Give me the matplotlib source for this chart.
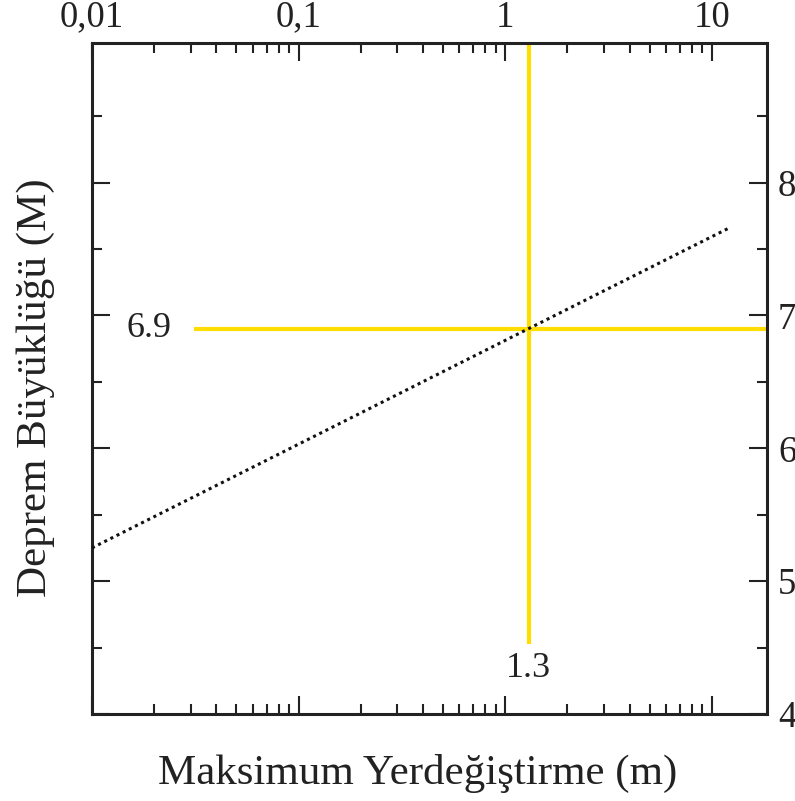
import matplotlib
matplotlib.use("Agg")
import matplotlib.pyplot as plt
from matplotlib.ticker import LogLocator, FixedLocator, NullFormatter, FuncFormatter

plt.rcParams['font.family'] = ['Liberation Serif', 'DejaVu Serif']

# Magnitude vs. maximum displacement relation (end points of the fitted line)
disp_line = [0.01, 12.2]
mag_line = [5.25, 7.66]

# Reference reading
disp_value = 1.3
mag_value = 6.9

x_ticks = [0.01, 0.1, 1, 10]
x_tick_labels = ["0,01", "0,1", "1", "10"]
y_ticks = [4, 5, 6, 7, 8]

ink = "#222222"
yellow = "#FFDD00"

fig = plt.figure(figsize=(7.95, 8.01), dpi=100)
ax = fig.add_axes([92 / 795, 1 - 714 / 801, (767 - 92) / 795, (714 - 43) / 801])

ax.set_xscale("log")
ax.set_xlim(0.01, 18.5)
ax.set_ylim(4, 9.05)

# Yellow guide lines through the reading
ax.plot([0.031, 18.5], [mag_value, mag_value], color=yellow, lw=3.0,
        solid_capstyle="butt", zorder=2, clip_on=False)
ax.plot([disp_value, disp_value], [4.53, 9.05], color=yellow, lw=3.0,
        solid_capstyle="butt", zorder=2)

# Fitted relation
ax.plot(disp_line, mag_line, color="#111111", lw=2.2,
        linestyle=(0, (1, 1.25)), zorder=3)

ax.text(0.0188, mag_value, f"{mag_value}", fontsize=26, color=ink,
        ha="center", va="center")
ax.text(disp_value, 4.34, f"{disp_value}", fontsize=26, color=ink,
        ha="center", va="center")

for s in ax.spines.values():
    s.set_linewidth(2.2)
    s.set_color(ink)

# X axis: labels on top, ticks on both sides
ax.xaxis.set_major_locator(FixedLocator(x_ticks))
ax.xaxis.set_major_formatter(FuncFormatter(
    lambda v, p: x_tick_labels[x_ticks.index(v)] if v in x_ticks else ""))
ax.xaxis.set_minor_locator(LogLocator(base=10, subs=range(2, 10), numticks=20))
ax.xaxis.set_minor_formatter(NullFormatter())
ax.tick_params(axis="x", which="both", direction="in", top=True, bottom=True,
               labeltop=True, labelbottom=False, color=ink)
ax.tick_params(axis="x", which="major", length=13, width=1.5, labelsize=26.5,
               pad=6, labelcolor=ink)
ax.tick_params(axis="x", which="minor", length=7, width=1.5)

# Y axis: labels on the right, ticks on both sides
ax.yaxis.set_major_locator(FixedLocator(y_ticks))
ax.yaxis.set_minor_locator(FixedLocator([4.5, 5.5, 6.5, 7.5, 8.5]))
ax.tick_params(axis="y", which="both", direction="in", left=True, right=True,
               labelleft=False, labelright=True, color=ink)
ax.tick_params(axis="y", which="major", length=13, width=1.5, labelsize=26.5,
               pad=8, labelcolor=ink)
ax.tick_params(axis="y", which="minor", length=7, width=1.5)

fig.text(418 / 795, 1 - 773 / 801, "Maksimum Yerdeğiştirme (m)", fontsize=31,
         color=ink, ha="center", va="center")
fig.text(36 / 795, 1 - 388 / 801, "Deprem Büyüklüğü (M)", fontsize=31,
         color=ink, ha="center", va="center", rotation=90)

fig.savefig("out.png", dpi=100)
